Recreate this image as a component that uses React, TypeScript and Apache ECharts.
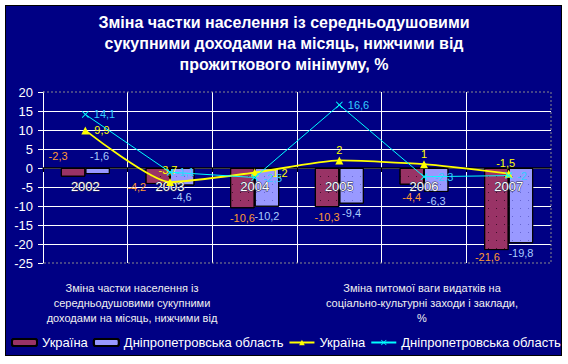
import React, { useEffect, useRef } from "react";
import * as echarts from "echarts";

const years = ["2002", "2003", "2004", "2005", "2006", "2007"];
const ukraineBar = [-2.3, -4.2, -10.6, -10.3, -4.4, -21.6];
const dniproBar = [-1.6, -4.6, -10.2, -9.4, -6.3, -19.8];
const ukraineLine = [9.9, -3.7, -1.2, 2, 1, -1.5];
const dniproLine = [14.1, -1.1, -2.5, 16.6, -2.3, -2];
const yMin = -25;
const yMax = 20;
const yStep = 5;

const titleText =
  "Зміна частки населення із середньодушовими\nсукупними доходами на місяць, нижчими від\nпрожиткового мінімуму, %";
const leftAxisTitle = [
  "Зміна частки населення із",
  "середньодушовими сукупними",
  "доходами на місяць, нижчими від",
];
const rightAxisTitle = [
  "Зміна питомої ваги видатків на",
  "соціально-культурні заходи і заклади,",
  "%",
];
const nameUA = "Україна";
const nameDP = "Дніпропетровська область";

// label placement (style only)
const ukrBarLabelPos: any[] = [
  { position: "top", distance: 7, offset: [-15, 0] },
  { offset: [-21, -6] },
  {},
  {},
  { offset: [0, 3] },
  { offset: [-9, -3] },
];
const dniBarLabelPos: any[] = [
  { position: "top", distance: 7, offset: [2, 0] },
  { offset: [0, 2] },
  {},
  {},
  {},
  {},
];
const ukrLineLabelPos: any[] = [
  { position: "right", distance: 5 },
  { position: "top", distance: 3, offset: [-2, 0] },
  { position: "right", distance: 10 },
  { position: "top", distance: 1 },
  { position: "top", distance: 1 },
  { position: "top", distance: 1.5, offset: [-3, 0] },
];
const dniLineLabelPos: any[] = [
  { distance: 5 },
  { distance: 2 },
  { distance: 5 },
  { distance: 5 },
  { distance: 7 },
  { distance: 5 },
];

const fmt = (v: number) => String(v).replace(".", ",");
const X_SYMBOL = "path://M0,1L1,0L5,4L9,0L10,1L6,5L10,9L9,10L5,6L1,10L0,9L4,5Z";

export default function App() {
  const ref = useRef<HTMLDivElement>(null);
  useEffect(() => {
    if (!ref.current) return;
    const chart = echarts.init(ref.current, null, { renderer: "svg" });
    const W = 568;
    const H = 364;
    const gridLeft = 43;
    const gridRight = 17;
    const gridTop = 92;
    const gridBottom = 101;
    const pr = W - gridRight;
    const pb = H - gridBottom;
    const plotH = pb - gridTop;
    const zeroY = gridTop + ((yMax - 0) / (yMax - yMin)) * plotH;
    const xAxisOffset = -(pb - zeroY);

    const labelFont = { fontFamily: "Arial, 'Liberation Sans', sans-serif", fontSize: 11 };

    const graphics: any[] = [
      {
        type: "polyline",
        silent: true,
        z: 10,
        shape: { points: [[gridLeft, gridTop], [pr, gridTop], [pr, pb], [gridLeft, pb]] },
        style: { stroke: "#8a8a8a", fill: null, lineWidth: 1, lineDash: [2, 2] },
      },
    ];
    const addBlock = (lines: string[], cx: number) =>
      lines.forEach((t, i) => {
        graphics.push({
          type: "text",
          x: cx,
          y: 288 + i * 15,
          style: {
            text: t,
            fill: "#f0f0f0",
            font: "11px Arial, 'Liberation Sans', sans-serif",
            textAlign: "center",
            textVerticalAlign: "middle",
          },
        });
      });
    addBlock(leftAxisTitle, 132);
    addBlock(rightAxisTitle, 422);

    chart.setOption({
      animation: false,
      backgroundColor: "transparent",
      title: {
        text: titleText,
        left: "center",
        top: 7,
        textStyle: {
          color: "#ffffff",
          fontSize: 16,
          fontWeight: "bold",
          fontFamily: "Arial, 'Liberation Sans', sans-serif",
          lineHeight: 21,
        },
      },
      grid: { left: gridLeft, right: gridRight, top: gridTop, bottom: gridBottom },
      legend: {
        left: 11,
        top: 336,
        padding: 0,
        width: 556,
        itemWidth: 25,
        itemHeight: 7,
        itemGap: 5,
        textStyle: {
          color: "#ffffff",
          fontSize: 13,
          fontFamily: "Arial, 'Liberation Sans', sans-serif",
        },
        data: [
          { name: nameUA },
          { name: nameDP },
          { name: nameUA + " " },
          { name: nameDP + " " },
        ],
        formatter: (n: string) => n.trim(),
      },
      xAxis: {
        type: "category",
        data: years,
        z: 3,
        offset: xAxisOffset,
        axisLine: { onZero: false, lineStyle: { color: "#000000", width: 1.5 } },
        axisTick: { show: true, length: 4, lineStyle: { color: "#000000" } },
        axisLabel: {
          color: "#ffffff",
          fontSize: 13,
          margin: 12,
          fontFamily: "Arial, 'Liberation Sans', sans-serif",
          textBorderColor: "#303050",
          textBorderWidth: 1,
        },
        splitLine: {
          show: true,
          showMinLine: false,
          showMaxLine: false,
          lineStyle: { color: "#ffffff", width: 1 },
        },
      },
      yAxis: {
        type: "value",
        min: yMin,
        max: yMax,
        interval: yStep,
        axisLine: { show: true, lineStyle: { color: "#ffffff", width: 1 } },
        axisTick: { show: true, length: 5, lineStyle: { color: "#ffffff" } },
        axisLabel: {
          color: "#ffffff",
          fontSize: 13,
          margin: 10,
          fontFamily: "Arial, 'Liberation Sans', sans-serif",
        },
        splitLine: {
          show: true,
          showMinLine: false,
          showMaxLine: false,
          lineStyle: { color: "#ffffff", width: 1 },
        },
      },
      series: [
        {
          name: nameUA,
          type: "bar",
          barWidth: 24.5,
          barGap: "0%",
          itemStyle: {
            color: "#993366",
            borderColor: "#000000",
            borderWidth: 1,
            decal: {
              symbol: "rect",
              symbolSize: 1,
              dashArrayX: [1, 7],
              dashArrayY: [1, 7],
              color: "rgba(30,0,20,0.7)",
            },
          },
          data: ukraineBar.map((v, i) => ({
            value: v,
            label: { show: true, position: "bottom", distance: 4, ...ukrBarLabelPos[i] },
          })),
          label: {
            show: true,
            color: "#ff9933",
            ...labelFont,
            formatter: (p: any) => fmt(p.value),
          },
        },
        {
          name: nameDP,
          type: "bar",
          barWidth: 24.5,
          barGap: "0%",
          itemStyle: {
            color: "#9999ff",
            borderColor: "#000000",
            borderWidth: 1,
            decal: {
              symbol: "rect",
              symbolSize: 1,
              dashArrayX: [1, 7],
              dashArrayY: [1, 7],
              color: "rgba(90,90,200,0.8)",
            },
          },
          data: dniproBar.map((v, i) => ({
            value: v,
            label: { show: true, position: "bottom", distance: 4, ...dniBarLabelPos[i] },
          })),
          label: {
            show: true,
            color: "#aaccff",
            ...labelFont,
            formatter: (p: any) => fmt(p.value),
          },
        },
        {
          name: nameUA + " ",
          type: "line",
          smooth: 0.2,
          z: 5,
          symbol: "triangle",
          symbolSize: 8,
          lineStyle: { color: "#ffff00", width: 1.8 },
          itemStyle: { color: "#ffff00" },
          data: ukraineLine.map((v, i) => ({
            value: v,
            label: { show: true, ...ukrLineLabelPos[i] },
          })),
          label: {
            show: true,
            color: "#ffff00",
            ...labelFont,
            formatter: (p: any) => fmt(p.value),
          },
        },
        {
          name: nameDP + " ",
          type: "line",
          z: 6,
          symbol: X_SYMBOL,
          symbolSize: 7,
          lineStyle: { color: "#00ffff", width: 1 },
          itemStyle: { color: "#00ffff" },
          data: dniproLine.map((v, i) => ({
            value: v,
            label: { show: true, position: "right", ...dniLineLabelPos[i] },
          })),
          label: {
            show: true,
            color: "#33ccff",
            ...labelFont,
            formatter: (p: any) => fmt(p.value),
          },
        },
      ],
      graphic: graphics,
    });
    return () => chart.dispose();
  }, []);

  return (
    <div style={{ position: "absolute", left: 0, top: 0, width: 568, height: 364, background: "#ffffff" }}>
      <div
        style={{
          position: "absolute",
          left: 5,
          top: 5,
          width: 555,
          height: 349,
          border: "1px solid #000000",
          background: "#000084",
        }}
      />
      <div ref={ref} style={{ position: "absolute", left: 0, top: 0, width: 568, height: 364 }} />
    </div>
  );
}
